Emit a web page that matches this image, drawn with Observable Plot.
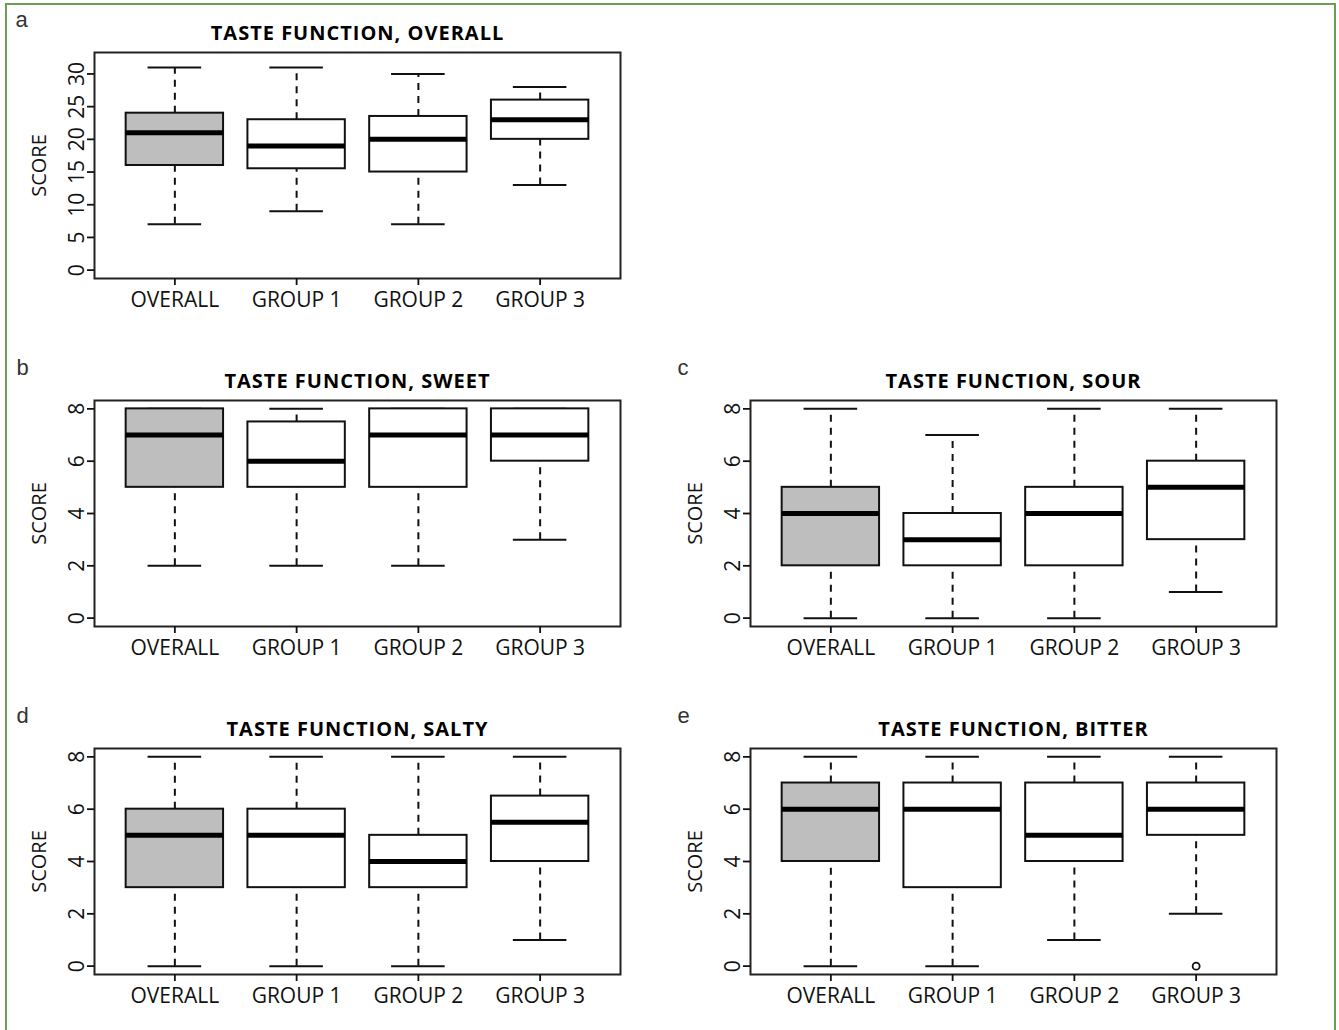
<!DOCTYPE html>
<html>
<head>
<meta charset="utf-8">
<script src="https://cdn.jsdelivr.net/npm/d3@7"></script>
<script src="https://cdn.jsdelivr.net/npm/@observablehq/plot@0.6"></script>
<style>
  html, body { margin: 0; padding: 0; background: #ffffff; }
  #page { position: relative; width: 1339px; height: 1030px; overflow: hidden; background: #fff; }
  #border { position: absolute; left: 5px; top: 3px; width: 1327px; height: 1100px; border: 2px solid #6b9d52; box-sizing: content-box; }
  .panel { position: absolute; }
</style>
</head>
<body>
<div id="page"><div id="border"></div></div>
<script>
// Categories (x axis)
const groups = ["OVERALL", "GROUP 1", "GROUP 2", "GROUP 3"];

// Box statistics per group: [lower whisker, Q1, median, Q3, upper whisker]
const overallScores = [[7, 16, 21, 24, 31], [9, 15.5, 19, 23, 31], [7, 15, 20, 23.5, 30], [13, 20, 23, 26, 28]];
const sweetScores   = [[2, 5, 7, 8, 8], [2, 5, 6, 7.5, 8], [2, 5, 7, 8, 8], [3, 6, 7, 8, 8]];
const sourScores    = [[0, 2, 4, 5, 8], [0, 2, 3, 4, 7], [0, 2, 4, 5, 8], [1, 3, 5, 6, 8]];
const saltyScores   = [[0, 3, 5, 6, 8], [0, 3, 5, 6, 8], [0, 3, 4, 5, 8], [1, 4, 5.5, 6.5, 8]];
const bitterScores  = [[0, 4, 6, 7, 8], [0, 3, 6, 7, 8], [1, 4, 5, 7, 8], [2, 5, 6, 7, 8]];

// Outliers
const bitterOutlierGroups = ["GROUP 3"];
const bitterOutlierValues = [0];

// Tick labels
const overallTicks = [0, 5, 10, 15, 20, 25, 30];
const tasteTicks = [0, 2, 4, 6, 8];

// Titles
const titles = ["TASTE FUNCTION, OVERALL", "TASTE FUNCTION, SWEET", "TASTE FUNCTION, SOUR", "TASTE FUNCTION, SALTY", "TASTE FUNCTION, BITTER"];
const letters = ["a", "b", "c", "d", "e"];

function boxPanel({title, letter, rows, yTicks, yDomain, outlierGroups = [], outlierValues = [], left, top, letterDx}) {
  const data = rows.map((r, i) => ({
    pos: i + 1, group: groups[i],
    min: r[0], q1: r[1], med: r[2], q3: r[3], max: r[4],
    fill: i === 0 ? "#bebebe" : "#ffffff"
  }));
  const outliers = outlierValues.map((v, k) => ({pos: groups.indexOf(outlierGroups[k]) + 1, value: v}));
  const W = 0.4, C = 0.22;
  const ink = "#111111";
  const plot = Plot.plot({
    width: 656, height: 348,
    marginLeft: 94, marginRight: 36, marginTop: 52, marginBottom: 70,
    x: {domain: [0.34, 4.66], axis: null},
    y: {domain: yDomain, axis: null},
    color: {type: "identity"},
    style: {fontFamily: "'Open Sans', sans-serif", background: "transparent", overflow: "visible", color: ink},
    marks: [
      Plot.ruleX(data, {x: "pos", y1: "q3", y2: "max", stroke: ink, strokeWidth: 2, strokeDasharray: "7,6"}),
      Plot.ruleX(data, {x: "pos", y1: "min", y2: "q1", stroke: ink, strokeWidth: 2, strokeDasharray: "7,6"}),
      Plot.ruleY(data, {y: "max", x1: d => d.pos - C, x2: d => d.pos + C, stroke: ink, strokeWidth: 2}),
      Plot.ruleY(data, {y: "min", x1: d => d.pos - C, x2: d => d.pos + C, stroke: ink, strokeWidth: 2}),
      Plot.rect(data, {x1: d => d.pos - W, x2: d => d.pos + W, y1: "q1", y2: "q3", fill: "fill", stroke: ink, strokeWidth: 2}),
      Plot.ruleY(data, {y: "med", x1: d => d.pos - W, x2: d => d.pos + W, stroke: "#000", strokeWidth: 5}),
      Plot.dot(outliers, {x: "pos", y: "value", r: 3.5, stroke: ink, fill: "none", strokeWidth: 1.8}),
      Plot.frame({stroke: "#222", strokeWidth: 2}),
      Plot.axisY(yTicks, {tickSize: 7, tickPadding: 4, tickRotate: -90, fontSize: 21, strokeWidth: 1.8, fill: ink, label: null}),
      Plot.axisX([1, 2, 3, 4], {tickFormat: d => groups[d - 1], tickSize: 7, tickPadding: 7, fontSize: 21, strokeWidth: 1.8, fill: ink, label: null}),
      Plot.text(["SCORE"], {frameAnchor: "left", dx: -55, rotate: -90, fontSize: 20, textAnchor: "middle", lineAnchor: "middle", fill: ink}),
      Plot.text([title], {frameAnchor: "top", dy: -19, fontSize: 20, fontWeight: "bold", lineAnchor: "middle", fill: "#000"}),
      Plot.text([letter], {frameAnchor: "top-left", dx: letterDx, dy: -26, textAnchor: "start", lineAnchor: "bottom", fontSize: 22, fontFamily: "'Liberation Sans', Arial, sans-serif", fill: "#333"})
    ]
  });
  plot.querySelectorAll("text").forEach(t => {
    if (t.textContent === title) t.style.letterSpacing = "1px";
  });
  plot.classList.add("panel");
  plot.style.left = left + "px";
  plot.style.top = top + "px";
  document.getElementById("page").appendChild(plot);
}

const small = [-0.32, 8.32];
boxPanel({title: titles[0], letter: letters[0], rows: overallScores, yTicks: overallTicks, yDomain: [-1.28, 33.28], left: 0, top: 0, letterDx: -79});
boxPanel({title: titles[1], letter: letters[1], rows: sweetScores, yTicks: tasteTicks, yDomain: small, left: 0, top: 348, letterDx: -78});
boxPanel({title: titles[2], letter: letters[2], rows: sourScores, yTicks: tasteTicks, yDomain: small, left: 656, top: 348, letterDx: -73});
boxPanel({title: titles[3], letter: letters[3], rows: saltyScores, yTicks: tasteTicks, yDomain: small, left: 0, top: 696, letterDx: -78});
boxPanel({title: titles[4], letter: letters[4], rows: bitterScores, yTicks: tasteTicks, yDomain: small, outlierGroups: bitterOutlierGroups, outlierValues: bitterOutlierValues, left: 656, top: 696, letterDx: -73});
</script>
</body>
</html>
